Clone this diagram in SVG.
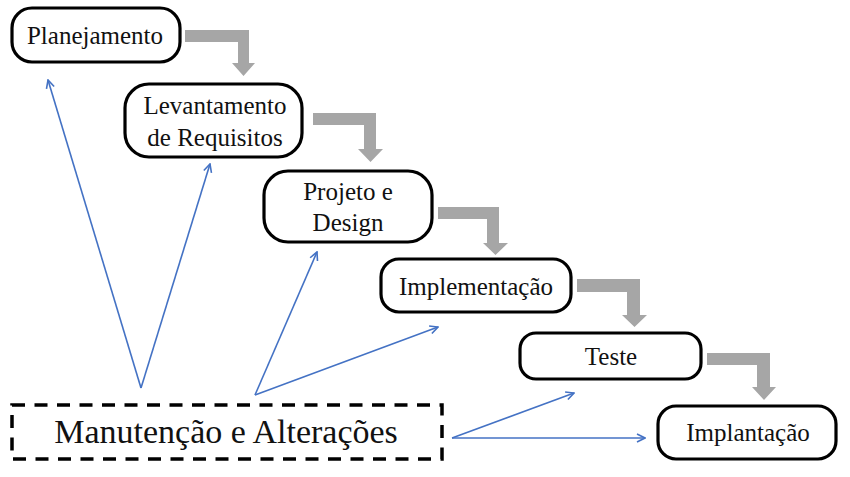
<svg xmlns="http://www.w3.org/2000/svg" width="850" height="477" viewBox="0 0 850 477">
<defs>
<style>
.node{fill:#fff;stroke:#000;stroke-width:3.2}
.dash{fill:#fff;stroke:#000;stroke-width:3.5;stroke-dasharray:13 9.5}
.flow{fill:#a6a6a6}
.link{fill:none;stroke:#4472c4;stroke-width:1.6}
</style>
<marker id="ah" viewBox="0 0 10 10" refX="9" refY="5" markerWidth="10" markerHeight="10" markerUnits="userSpaceOnUse" orient="auto">
<path d="M1,1 L9,5 L1,9" fill="none" stroke="#4472c4" stroke-width="1.6"/>
</marker>
</defs>
<rect width="850" height="477" fill="#fff"/>
<g id="connectors">
<path class="flow" d="M185,30 H249 V63 H255 L243.5,76 L232,63 H238 V42 H185 Z"/>
<path class="flow" d="M313,113 H376 V149 H383 L370.5,162 L358,149 H364 V125 H313 Z"/>
<path class="flow" d="M438,207 H499 V243 H508 L495.5,255 L483,243 H487 V219 H438 Z"/>
<path class="flow" d="M577,279 H640 V315 H647 L634.5,327 L622,315 H627 V292 H577 Z"/>
<path class="flow" d="M707,353 H770 V387 H776 L764,400 L752,387 H757 V365 H707 Z"/>
<path class="link" d="M141,388 L48,80" marker-end="url(#ah)"/>
<path class="link" d="M141,388 L210,164" marker-end="url(#ah)"/>
<path class="link" d="M255,395 L317,252" marker-end="url(#ah)"/>
<path class="link" d="M255,395 L438,327" marker-end="url(#ah)"/>
<path class="link" d="M452,438 L574,393" marker-end="url(#ah)"/>
<path class="link" d="M452,438 L645,438" marker-end="url(#ah)"/>
</g>
<g font-family="Liberation Serif, Times New Roman, serif" font-size="25" fill="#111" text-anchor="middle">
<g id="planejamento">
<rect class="node" x="12" y="8" width="168" height="54" rx="20"/>
<text x="95" y="44">Planejamento</text>
</g>
<g id="levantamento">
<rect class="node" x="125" y="84" width="177" height="73" rx="24"/>
<text x="215" y="114">Levantamento</text>
<text x="215" y="146">de Requisitos</text>
</g>
<g id="projeto">
<rect class="node" x="264" y="171" width="168" height="71" rx="24"/>
<text x="348" y="200">Projeto e</text>
<text x="348" y="231">Design</text>
</g>
<g id="implementacao">
<rect class="node" x="381" y="259" width="190" height="53" rx="18"/>
<text x="476" y="295">Implementação</text>
</g>
<g id="teste">
<rect class="node" x="520" y="333" width="181" height="46" rx="16"/>
<text x="611" y="365">Teste</text>
</g>
<g id="implantacao">
<rect class="node" x="658" y="406" width="178" height="53" rx="18"/>
<text x="748" y="441">Implantação</text>
</g>
<g id="manutencao">
<rect class="dash" x="12" y="405" width="430" height="54"/>
<text x="226" y="443" font-size="34">Manutenção e Alterações</text>
</g>
</g>
</svg>
